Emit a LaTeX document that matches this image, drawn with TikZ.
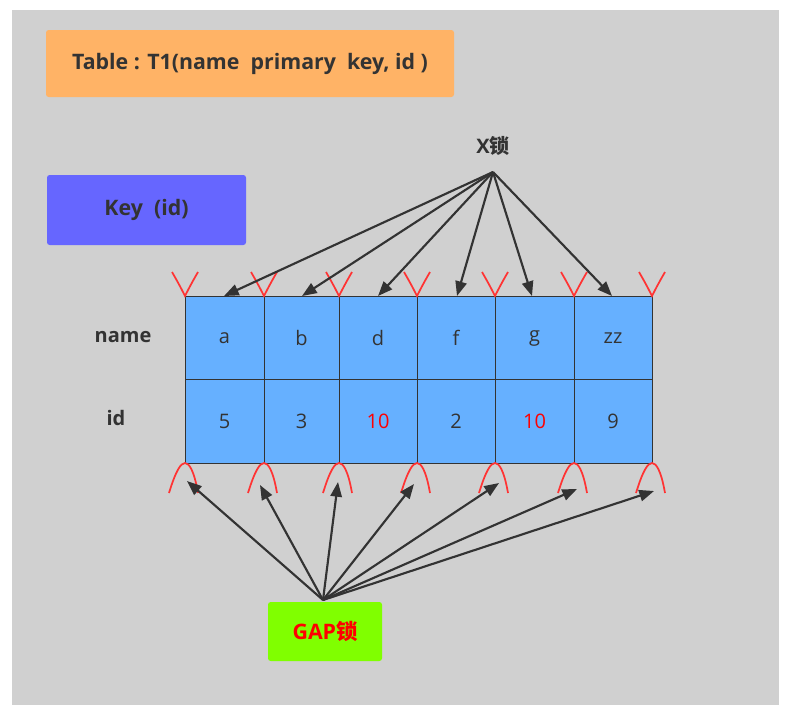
\documentclass[tikz,border=0pt]{standalone}
\usepackage{fontspec}
\setmainfont{Open Sans}
\newfontfamily\cjk{Noto Sans CJK SC}
\usetikzlibrary{arrows.meta}
\definecolor{bg}{HTML}{D0D0D0}
\definecolor{ink}{HTML}{333333}
\definecolor{orng}{HTML}{FFB366}
\definecolor{keyblue}{HTML}{6666FF}
\definecolor{cellblue}{HTML}{66B0FF}
\definecolor{gapgreen}{HTML}{80FF00}
\definecolor{lockred}{HTML}{FF3333}
\tikzset{
  tag/.style={rounded corners=2pt, inner sep=0pt, font=\fontsize{16}{18}\selectfont\bfseries, text=ink},
  cell/.style={draw=ink, line width=0.6pt, fill=cellblue, minimum height=84*0.75pt, inner sep=0pt, font=\fontsize{15}{17}\selectfont, text=ink},
  lbl/.style={font=\fontsize{15}{17}\selectfont\bfseries, text=ink},
  arr/.style={draw=ink, line width=1.6pt, -{Triangle[length=11pt,width=8.5pt]}},
  lock/.style={draw=lockred, line width=1.3pt},
}
\begin{document}
\begin{tikzpicture}[x=0.75pt,y=-0.75pt]
\useasboundingbox (0,0) rectangle (787,718);
\fill[white] (0,0) rectangle (787,718);
\fill[bg] (12,10) rectangle (779,705);
% header boxes
\node[tag, fill=orng, minimum width=408*0.75pt, minimum height=67*0.75pt] (tbl) at (250,63.5) {Table : T1(name\ \ primary\ \ key, id )};
\node[tag, fill=keyblue, minimum width=199*0.75pt, minimum height=70*0.75pt] (key) at (146.5,210) {Key\ \ (id)};
\node[tag, fill=gapgreen, text=red, minimum width=114*0.75pt, minimum height=59*0.75pt] (gap) at (325,631.5) {GAP{\cjk 锁}};
\node[lbl] (xl) at (493,146) {X{\cjk 锁}};
% row labels
\node[lbl] (lname) at (123,337) {name};
\node[lbl] (lid) at (116,418) {id};
% table cells
\foreach \i/\l/\r/\t/\b [count=\k] in {185/264/a/5/ink, 264/339/b/3/ink, 339/417/d/10/red, 417/495/f/2/ink, 495/574/g/10/red, 574/652/zz/9/ink}{
  \node[cell, minimum width={(\l-\i)*0.75pt}] (n\k) at ({(\i+\l)/2},338) {\r};
  \node[cell, minimum width={(\l-\i)*0.75pt}, text=\b] (d\k) at ({(\i+\l)/2},421.5) {\t};
}
% top red V marks
\foreach \x in {185,264,339,417,495,574,652}{
  \draw[lock] (\x-13,272) .. controls (\x-6,284) and (\x-2,292) .. (\x,296) .. controls (\x+2,292) and (\x+6,284) .. (\x+13,272);
}
% bottom red arches
\foreach \x in {185,264,339,417,495,574,652}{
  \draw[lock] (\x-16,493) .. controls (\x-9,470) and (\x-4,463) .. (\x,463) .. controls (\x+4,463) and (\x+9,470) .. (\x+13,493);
}
% X lock arrows
\coordinate (xo) at (493,172);
\foreach \tx/\ty [count=\k] in {224/296, 302/296, 378/296, 457/296, 532/296, 612/296}{
  \coordinate (xt\k) at (\tx,\ty);
  \draw[arr] (xo) -- (xt\k);
}
% GAP arrows
\coordinate (go) at (323,600);
\foreach \tx/\ty [count=\k] in {187/481, 260/485, 338/482, 414/484, 499/483, 577/489, 654/491}{
  \coordinate (gt\k) at (\tx,\ty);
  \draw[arr] (go) -- (gt\k);
}
\end{tikzpicture}
\end{document}
